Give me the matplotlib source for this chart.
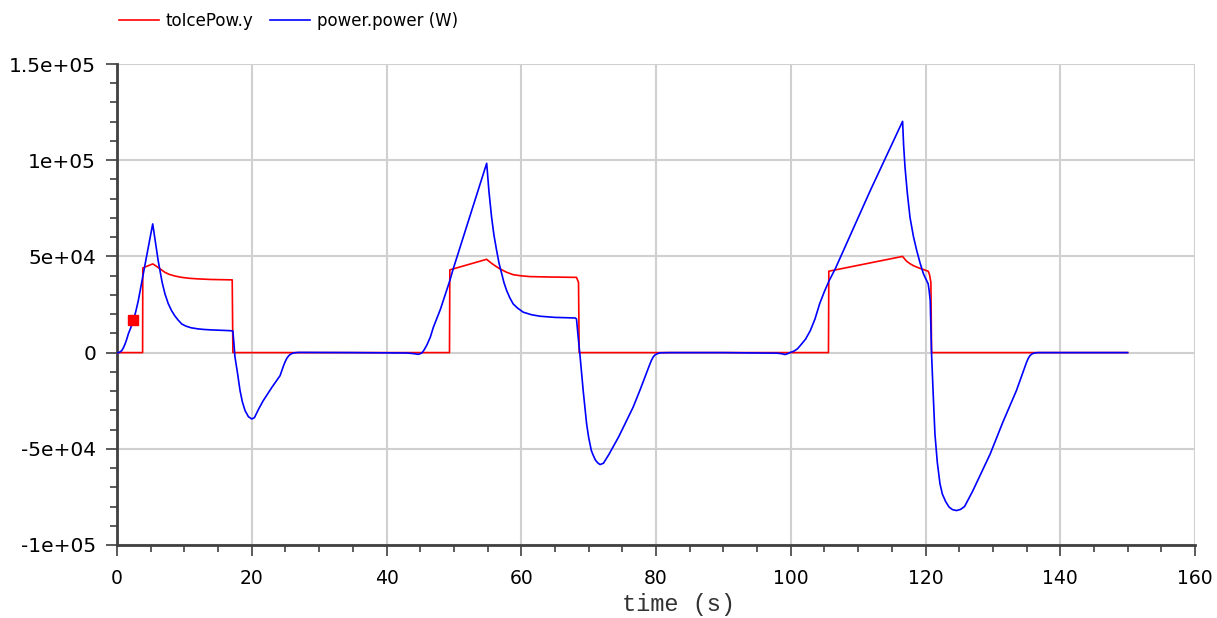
import matplotlib
matplotlib.use("Agg")
import matplotlib.pyplot as plt
from matplotlib.ticker import MultipleLocator, FuncFormatter

# ---- data: toIcePow.y (red) ----
red_t = [0, 3.8, 3.83, 5.3, 5.8, 6.4, 7.12, 7.8, 8.6, 9.6, 10.8, 12.07, 14.0, 17.1, 17.2,
         49.35, 49.4, 54.87, 55.3, 55.8, 56.3, 56.85, 57.8, 58.8, 60.0, 61.3, 64.0, 68.2, 68.5, 68.6,
         105.6, 105.65, 116.6, 116.9, 117.2, 117.7, 118.2, 118.8, 119.5, 120.4, 120.6, 120.8, 120.9,
         150.0]
red_v = [0, 0, 44000, 46100, 45000, 43500, 41700, 40600, 39800, 39100, 38600, 38300, 38000, 37800, 0,
         0, 43000, 48500, 47200, 45900, 44700, 43500, 41800, 40500, 39900, 39500, 39300, 39100, 36500, 0,
         0, 42300, 50000, 48700, 47500, 46200, 45200, 44300, 43400, 42300, 40500, 36500, 0,
         0]

# ---- data: power.power (W) (blue) ----
blue_t = [0, 0.3, 0.7, 0.95, 1.2, 1.45, 1.68, 2.05, 2.42, 2.8, 3.16, 3.5, 3.9, 4.65, 5.3,
          5.6, 5.89, 6.1, 6.38, 6.7, 7.12, 7.6, 8.1, 8.6, 9.1, 9.6, 10.2, 11.0, 12.07, 13.0, 14.0, 16.8, 17.2,
          17.35, 17.5, 17.9, 18.26, 18.6, 19.0, 19.5, 20.0, 20.4, 21.0, 21.7, 23.0, 24.2,
          24.45, 24.7, 24.95, 25.2, 25.45, 25.7, 25.95, 26.2, 26.6, 27.0, 35.0, 43.0, 44.0, 44.7, 45.0, 45.3,
          45.6, 46.0, 46.5, 46.95, 48.0, 49.4, 49.9, 54.87,
          55.2, 55.6, 55.95, 56.35, 56.7, 57.1, 57.45, 57.84, 58.3, 58.8, 59.5, 60.3, 61.5, 62.8, 65.0, 68.0, 68.2,
          68.45, 68.7, 69.2, 69.7, 70.0, 70.4, 70.7, 71.0, 71.35, 71.7, 72.2, 73.0, 74.5, 76.6, 77.6, 78.6,
          79.1, 79.35, 79.6, 79.85, 80.1, 80.6, 82.0, 90.0, 98.0, 98.7, 99.15, 99.5, 99.9,
          100.5, 101.0, 101.4, 102.2, 102.9, 103.6, 104.3, 105.0, 105.7, 106.6, 111.8, 116.6,
          116.75, 116.96, 117.3, 117.7, 118.2, 118.7, 119.2, 119.7, 120.4, 120.55, 120.7, 120.8, 120.9,
          121.1, 121.4, 121.75, 122.15, 122.5, 123.0, 123.5, 124.0, 124.6, 125.2, 125.8, 127.0,
          129.6, 131.5, 133.5, 134.2, 134.6, 135.0, 135.25, 135.5, 135.75, 136.0, 136.4, 136.7,
          140.0, 150.0]
blue_v = [0, 0, 1000, 2500, 4500, 7000, 9700, 13000, 16600, 21500, 27000, 33500, 40900, 54700, 66900,
          60000, 53000, 48000, 42600, 36500, 30500, 25500, 21800, 19000, 16800, 14900, 13800, 12900, 12300, 12000, 11800, 11400, 11200,
          5000, -2000, -11000, -19700, -25500, -30100, -33300, -34500, -33800, -29500, -25000, -18000, -12000,
          -9500, -7000, -4800, -3000, -1800, -1000, -500, -200, 0, 100, 0, -200, -500, -900, -600, 0,
          1500, 4000, 8000, 13100, 22500, 37400, 43500, 98400,
          84000, 70300, 61000, 53000, 46500, 40900, 36200, 32200, 28500, 25300, 23000, 21000, 19700, 18900, 18300, 18000, 17500,
          8000, -700, -20000, -37000, -44000, -50900, -53500, -55800, -57300, -58200, -57500, -53000, -43500, -28400, -19700, -10500,
          -5900, -3800, -2200, -1200, -700, -100, 0, 0, -300, -600, -1000, -600, 0,
          800, 2000, 3600, 7000, 11400, 17500, 25500, 31800, 37400, 43500, 84200, 120200,
          108000, 96300, 83000, 70300, 60500, 53000, 46500, 40900, 35700, 32000, 27000, 14000, -700,
          -18000, -42300, -57000, -68200, -73500, -77500, -80300, -81600, -82100, -81500, -80000, -72000,
          -52700, -36000, -19700, -12800, -9000, -5000, -3000, -1600, -800, -400, -100, 0,
          0, 0]

marker_t = [2.4]
marker_v = [17150]

x_ticks = [0, 20, 40, 60, 80, 100, 120, 140, 160]
y_ticks = [-1e5, -5e4, 0, 5e4, 1e5, 1.5e5]

fig = plt.figure(figsize=(12.17, 6.18), dpi=100)
ax = fig.add_axes([117/1217, 1-545/618, (1195-117)/1217, (545-64)/618])

ax.plot(red_t, red_v, color="#ff0000", lw=1.2, label="toIcePow.y", zorder=3)
ax.plot(blue_t, blue_v, color="#0000ff", lw=1.2, label="power.power (W)", zorder=4)
ax.plot(marker_t, marker_v, "s", color="#ff0000", ms=7, zorder=5)

ax.set_xlim(0, 160)
ax.set_ylim(-1e5, 1.5e5)
ax.set_xticks(x_ticks)
ax.set_yticks(y_ticks)
ax.xaxis.set_minor_locator(MultipleLocator(5))
ax.yaxis.set_minor_locator(MultipleLocator(1e4))
ax.yaxis.set_major_formatter(FuncFormatter(lambda v, p: "%.2g" % v if v != 0 else "0"))

ax.grid(True, which="major", color="#d0d0d0", lw=1.5)
ax.set_axisbelow(True)
for s in ["top", "right"]:
    ax.spines[s].set_visible(False)
for s in ["left", "bottom"]:
    ax.spines[s].set_color("#404040")
    ax.spines[s].set_linewidth(2)

ax.tick_params(which="major", length=8, width=1.2, color="#404040", pad=4)
ax.tick_params(which="minor", length=5, width=1.2, color="#404040")
ax.tick_params(axis="x", which="major", labelsize=13.5, pad=9)
ax.tick_params(axis="y", which="major", labelsize=14.5, pad=7)

ax.set_xlabel("time (s)", family="Liberation Mono", fontsize=17, color="#333333")
ax.xaxis.set_label_coords((678-117)/1078, -0.1)

leg = fig.legend(loc="upper left", bbox_to_anchor=(104/1217, 1.005), ncol=2, frameon=False,
                 fontsize=12, handlelength=2.4, columnspacing=1.0, handletextpad=0.42)

fig.savefig("out.png", dpi=100)
